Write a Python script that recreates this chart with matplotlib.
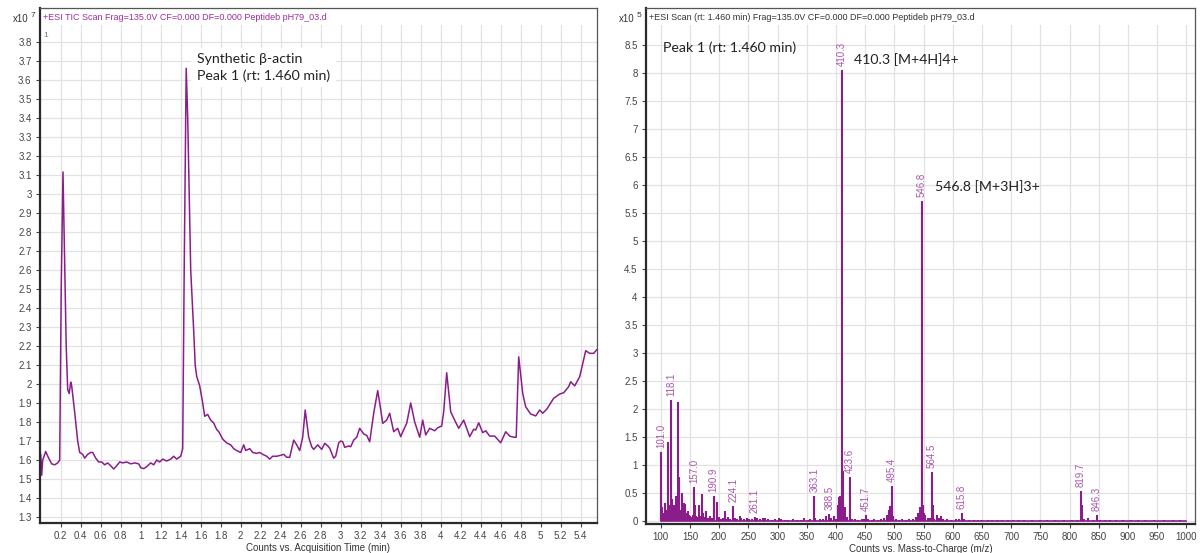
import matplotlib
matplotlib.use('Agg')
import matplotlib.pyplot as plt
from matplotlib.patches import Rectangle

# TIC chromatogram (x10^7 counts) vs acquisition time (min)
rt_min = [0.00, 0.01, 0.02, 0.05, 0.08, 0.11, 0.14, 0.17, 0.19, 0.205, 0.223, 0.255, 0.27, 0.285,
          0.30, 0.31, 0.34, 0.37, 0.39, 0.42, 0.44, 0.47, 0.50, 0.52, 0.55, 0.58, 0.61, 0.64,
          0.67, 0.70, 0.73, 0.76, 0.79, 0.82, 0.86, 0.90, 0.94, 0.98, 1.00, 1.03, 1.06, 1.10,
          1.13, 1.16, 1.19, 1.22, 1.26, 1.30, 1.33, 1.36, 1.40, 1.42, 1.435, 1.455, 1.47, 1.50,
          1.53, 1.545, 1.56, 1.59, 1.62, 1.64, 1.67, 1.70, 1.73, 1.76, 1.78, 1.82, 1.86, 1.90,
          1.93, 1.96, 2.00, 2.03, 2.05, 2.09, 2.12, 2.16, 2.19, 2.22, 2.26, 2.29, 2.32, 2.36,
          2.40, 2.43, 2.46, 2.49, 2.53, 2.56, 2.59, 2.62, 2.645, 2.68, 2.71, 2.73, 2.77, 2.81,
          2.84, 2.87, 2.89, 2.93, 2.95, 2.98, 3.00, 3.02, 3.04, 3.08, 3.10, 3.13, 3.16, 3.19,
          3.23, 3.26, 3.29, 3.33, 3.37, 3.39, 3.42, 3.46, 3.49, 3.53, 3.57, 3.60, 3.63, 3.66,
          3.70, 3.74, 3.79, 3.82, 3.85, 3.89, 3.94, 3.97, 4.01, 4.03, 4.06, 4.10, 4.13, 4.18,
          4.23, 4.29, 4.33, 4.35, 4.38, 4.42, 4.45, 4.49, 4.54, 4.60, 4.65, 4.69, 4.73, 4.755,
          4.78, 4.82, 4.85, 4.90, 4.95, 4.99, 5.02, 5.06, 5.13, 5.19, 5.23, 5.28, 5.30, 5.34,
          5.39, 5.45, 5.49, 5.53, 5.56]
tic_counts = [1.63, 1.52, 1.60, 1.645, 1.61, 1.58, 1.575, 1.585, 1.60, 2.50, 3.115, 2.20, 1.97, 1.95,
              2.01, 1.99, 1.85, 1.70, 1.64, 1.63, 1.61, 1.63, 1.64, 1.64, 1.61, 1.59, 1.59, 1.575,
              1.585, 1.57, 1.553, 1.57, 1.59, 1.585, 1.59, 1.58, 1.585, 1.58, 1.56, 1.555, 1.565, 1.585,
              1.575, 1.60, 1.59, 1.605, 1.595, 1.605, 1.62, 1.605, 1.62, 1.66, 2.60, 3.66, 3.40, 2.60,
              2.28, 2.10, 2.04, 1.99, 1.90, 1.83, 1.84, 1.81, 1.795, 1.76, 1.75, 1.71, 1.69, 1.68,
              1.66, 1.65, 1.64, 1.68, 1.65, 1.66, 1.64, 1.635, 1.64, 1.63, 1.62, 1.605, 1.62, 1.62,
              1.625, 1.63, 1.615, 1.614, 1.705, 1.68, 1.65, 1.72, 1.863, 1.72, 1.67, 1.656, 1.68, 1.656,
              1.688, 1.675, 1.662, 1.61, 1.62, 1.69, 1.70, 1.696, 1.667, 1.674, 1.67, 1.705, 1.72, 1.767,
              1.737, 1.73, 1.696, 1.846, 1.965, 1.90, 1.793, 1.81, 1.846, 1.749, 1.767, 1.723, 1.76, 1.793,
              1.90, 1.80, 1.72, 1.81, 1.732, 1.767, 1.754, 1.77, 1.779, 1.854, 2.059, 1.854, 1.82, 1.767,
              1.81, 1.723, 1.762, 1.758, 1.796, 1.744, 1.754, 1.726, 1.726, 1.691, 1.749, 1.726, 1.72, 1.72,
              2.143, 1.951, 1.88, 1.842, 1.832, 1.863, 1.846, 1.867, 1.925, 1.947, 1.954, 1.986, 2.012, 1.99,
              2.038, 2.175, 2.161, 2.161, 2.18]

# mass spectrum at rt 1.460 min (x10^5 counts)
mz = [100.2, 101.0, 102.0, 104, 106, 108, 110, 112.1, 114, 116, 118.1, 119.1, 121, 123, 125, 127,
      129.9, 131, 132, 134, 136.9, 139, 140.5, 142, 144, 146, 148, 150, 152, 155, 157.0, 158, 160,
      163, 165.1, 167, 170.9, 173, 176, 178, 181, 184, 187, 190.9, 192, 195.9, 199, 203, 206, 209.9,
      213, 216, 219, 224.1, 227, 231, 235, 238, 243, 247, 252, 256, 261.1, 265, 270, 275, 279, 284,
      290, 296, 303, 306, 312, 318, 326, 333, 340, 346, 352, 356, 363.1, 365, 372, 378, 383, 388.5,
      392, 396, 400, 404, 406, 407.5, 410.3, 411.3, 412.3, 415.5, 419, 423.6, 424.6, 427, 433, 438,
      444, 448, 451.7, 455, 461, 466, 472, 477, 482, 487, 490.5, 493, 495.4, 496.4, 498, 503, 508,
      514, 520, 526, 532, 538, 541, 543.5, 545, 546.8, 547.8, 548.8, 551, 553, 557, 561, 564.5,
      565.5, 568, 573, 576, 580, 584, 590, 597, 605, 610, 615.8, 620, 628, 636, 643, 651, 660, 668,
      676, 684, 695, 703, 714, 722, 735, 750, 762, 775, 790, 805, 812, 819.7, 820.7, 822, 825, 832,
      840, 846.3, 852, 860, 870, 880, 892, 905, 918, 930, 945, 962, 978, 990]
intensity = [0.60, 1.245, 0.25, 0.15, 0.10, 0.33, 0.20, 1.42, 0.30, 0.25, 2.17, 0.40, 0.20, 0.30, 0.15, 0.45,
             2.13, 0.80, 0.69, 0.20, 0.51, 0.20, 0.33, 0.32, 0.15, 0.18, 0.12, 0.10, 0.08, 0.12, 0.61, 0.30, 0.10,
             0.08, 0.29, 0.10, 0.49, 0.15, 0.08, 0.19, 0.06, 0.10, 0.07, 0.455, 0.20, 0.35, 0.08, 0.05, 0.07, 0.18,
             0.05, 0.08, 0.05, 0.27, 0.06, 0.05, 0.10, 0.07, 0.05, 0.07, 0.04, 0.05, 0.08, 0.06, 0.04, 0.06, 0.07, 0.04,
             0.03, 0.05, 0.06, 0.04, 0.03, 0.03, 0.04, 0.03, 0.03, 0.06, 0.03, 0.04, 0.455, 0.06, 0.04, 0.05, 0.10, 0.13,
             0.06, 0.10, 0.05, 0.30, 0.44, 0.45, 8.05, 0.90, 0.30, 0.26, 0.08, 0.80, 0.20, 0.05, 0.04, 0.03,
             0.04, 0.05, 0.12, 0.04, 0.03, 0.04, 0.03, 0.05, 0.06, 0.12, 0.20, 0.28, 0.63, 0.28, 0.10, 0.04, 0.03,
             0.04, 0.03, 0.04, 0.05, 0.08, 0.15, 0.25, 0.15, 5.72, 1.00, 0.30, 0.15, 0.12, 0.06, 0.07, 0.89,
             0.30, 0.05, 0.12, 0.07, 0.10, 0.05, 0.04, 0.03, 0.04, 0.05, 0.15, 0.04, 0.03, 0.03, 0.03, 0.02, 0.03, 0.02,
             0.02, 0.03, 0.02, 0.02, 0.02, 0.02, 0.02, 0.02, 0.02, 0.02, 0.03, 0.03, 0.03, 0.54, 0.30, 0.20, 0.05, 0.07,
             0.03, 0.11, 0.03, 0.03, 0.02, 0.03, 0.02, 0.02, 0.02, 0.02, 0.02, 0.02, 0.02, 0.02]
labelled_mz = [101.0, 118.1, 157.0, 190.9, 224.1, 261.1, 363.1, 388.5, 410.3, 423.6, 451.7,
               495.4, 546.8, 564.5, 615.8, 819.7, 846.3]

purple = '#8b1d8b'
label_purple = '#a857a8'
axis_font = ['Liberation Sans', 'DejaVu Sans']
note_font = ['Lato', 'DejaVu Sans']
plt.rcParams['font.family'] = axis_font

W, H = 1203.0, 553.0
fig = plt.figure(figsize=(W / 100, H / 100), dpi=100)

def add_ax(l, t, r, b):
    return fig.add_axes([l / W, 1 - b / H, (r - l) / W, (b - t) / H])

def style(ax, header, header_color):
    ax.set_axisbelow(True)
    ax.grid(True, color='#e2e2e2', lw=0.9)
    for s in ['left', 'bottom']:
        ax.spines[s].set_color('#2a2a2a')
        ax.spines[s].set_linewidth(1.6)
    for s in ['top', 'right']:
        ax.spines[s].set_color('#555555')
        ax.spines[s].set_linewidth(0.9)
    ax.tick_params(length=3, width=0.8, color='#444444', labelsize=7, labelcolor='#444444', pad=3)
    # blank header strip where the instrument caption sits
    ax.add_patch(Rectangle((0, 0.967), 1, 0.033, transform=ax.transAxes,
                           facecolor='white', edgecolor='none', zorder=1))
    ax.text(0.0055, 0.982, header, transform=ax.transAxes, fontsize=6.5,
            color=header_color, va='center', ha='left', zorder=3)

# ---- left: TIC ----
ax1 = add_ax(40, 8, 597, 523)
ax1.plot(rt_min, tic_counts, color=purple, lw=1.1, zorder=2)
ax1.set_xlim(-0.007, 5.563)
ax1.set_ylim(1.269, 3.977)
ax1.set_xticks([round(0.2 * i, 1) for i in range(1, 28)])
ax1.set_yticks([round(1.3 + 0.1 * i, 1) for i in range(26)])
ax1.xaxis.set_major_formatter(plt.FormatStrFormatter('%g'))
ax1.yaxis.set_major_formatter(plt.FormatStrFormatter('%g'))
ax1.set_xlabel('Counts vs. Acquisition Time (min)', fontsize=7, color='#333333', labelpad=1)
style(ax1, '+ESI TIC Scan Frag=135.0V CF=0.000 DF=0.000 Peptideb pH79_03.d', '#9b2d9b')
ax1.text(0.006, 0.947, '1', transform=ax1.transAxes, fontsize=6, color='#777777', va='center')
ax1.text(1.563, 3.74, 'Synthetic \u03b2-actin\nPeak 1 (rt: 1.460 min)', family=note_font,
         fontsize=10.2, va='top', ha='left', linespacing=1.4, color='#222222', zorder=4,
         bbox=dict(facecolor='white', edgecolor='none', pad=4))
fig.text(13 / W, 1 - 22 / H, 'x10', fontsize=7, color='#333333')
fig.text(31 / W, 1 - 17 / H, '7', fontsize=6, color='#333333')

# ---- right: mass spectrum ----
ax2 = add_ax(646, 8, 1195, 524)
ax2.vlines(mz, 0, intensity, color=purple, lw=1.5, zorder=2)
ax2.plot([min(mz), 1000], [0.012, 0.012], color=purple, lw=1.2, zorder=2)
for m in labelled_mz:
    h = intensity[mz.index(m)]
    ax2.text(m, h + 0.07, '%.1f' % m, rotation=90, ha='center', va='bottom',
             fontsize=7, color=label_purple, zorder=3)
ax2.set_xlim(74.8, 1014.9)
ax2.set_ylim(-0.045, 9.16)
ax2.set_xticks(list(range(100, 1001, 50)))
ax2.set_yticks([0.5 * i for i in range(18)])
ax2.yaxis.set_major_formatter(plt.FormatStrFormatter('%g'))
ax2.set_xlabel('Counts vs. Mass-to-Charge (m/z)', fontsize=7, color='#333333', labelpad=1)
style(ax2, '+ESI Scan (rt: 1.460 min) Frag=135.0V CF=0.000 DF=0.000 Peptideb pH79_03.d', '#333333')
ax2.text(104, 8.57, 'Peak 1 (rt: 1.460 min)', family=note_font, fontsize=10.2,
         va='top', ha='left', color='#222222', zorder=4)
ax2.text(431, 8.35, '410.3 [M+4H]4+', family=note_font, fontsize=10.2,
         va='top', ha='left', color='#222222', zorder=4)
ax2.text(569.7, 6.09, '546.8 [M+3H]3+', family=note_font, fontsize=10.2,
         va='top', ha='left', color='#222222', zorder=4)
fig.text(619 / W, 1 - 22 / H, 'x10', fontsize=7, color='#333333')
fig.text(637 / W, 1 - 17 / H, '5', fontsize=6, color='#333333')

fig.savefig('out.png', dpi=100)
